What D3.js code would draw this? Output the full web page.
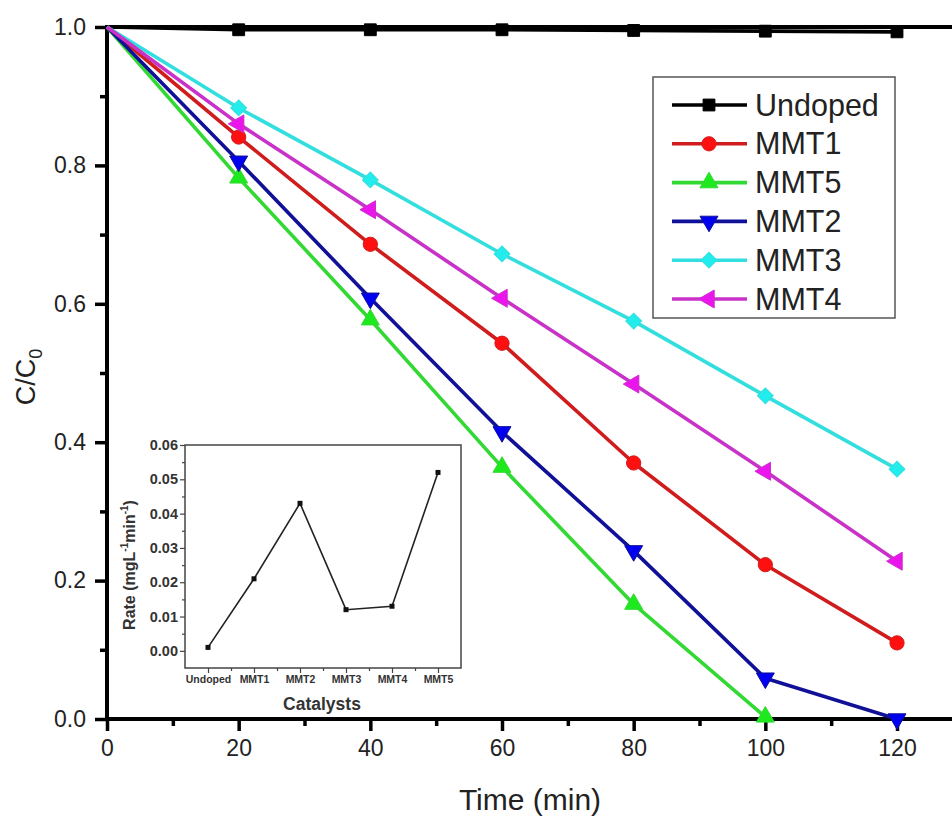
<!DOCTYPE html>
<html><head><meta charset="utf-8">
<script src="https://cdn.jsdelivr.net/npm/d3@7"></script>
<style>body{margin:0;background:#fff}svg{display:block}</style>
</head><body><svg id="c" width="952" height="820"></svg>
<script>
// ---- data ----
const times = [0, 20, 40, 60, 80, 100, 120];
const undoped = [1.0, 0.996, 0.996, 0.996, 0.995, 0.994, 0.993];
const mmt1 = [1.0, 0.841, 0.686, 0.543, 0.370, 0.223, 0.110];
const mmt5 = [1.0, 0.782, 0.577, 0.364, 0.166, 0.003];
const mmt2 = [1.0, 0.806, 0.608, 0.415, 0.243, 0.059, 0.0];
const mmt3 = [1.0, 0.883, 0.779, 0.672, 0.575, 0.467, 0.361];
const mmt4 = [1.0, 0.860, 0.736, 0.608, 0.484, 0.358, 0.228];
const seriesNames = ["Undoped", "MMT1", "MMT5", "MMT2", "MMT3", "MMT4"];
const xTicks = [0, 20, 40, 60, 80, 100, 120];
const xMinor = [10, 30, 50, 70, 90, 110, 130];
const yTicks = [0.0, 0.2, 0.4, 0.6, 0.8, 1.0];
const yMinor = [0.1, 0.3, 0.5, 0.7, 0.9];
const catalysts = ["Undoped", "MMT1", "MMT2", "MMT3", "MMT4", "MMT5"];
const rates = [0.001, 0.021, 0.043, 0.012, 0.013, 0.052];
const rateTicks = [0.00, 0.01, 0.02, 0.03, 0.04, 0.05, 0.06];

// ---- styles ----
const FONT = "'Liberation Sans', Arial, Helvetica, sans-serif";
const styles = [
  {line: "#000000", fill: "#000000", sym: d3.symbolSquare, size: 140, rot: 0},
  {line: "#d01c1c", fill: "#ff1010", sym: d3.symbolCircle, size: 160, rot: 0},
  {line: "#33d933", fill: "#1ee81e", sym: d3.symbolTriangle, size: 140, rot: 0},
  {line: "#101098", fill: "#0000f0", sym: d3.symbolTriangle, size: 140, rot: 180},
  {line: "#33dede", fill: "#22ecec", sym: d3.symbolSquare, size: 125, rot: 45},
  {line: "#c832c8", fill: "#ec14ec", sym: d3.symbolTriangle, size: 140, rot: -90}
];
const seriesVals = [undoped, mmt1, mmt5, mmt2, mmt3, mmt4];

const svg = d3.select("#c");
svg.append("rect").attr("width", 952).attr("height", 820).attr("fill", "#fff");

const x = d3.scaleLinear().domain([0, 120]).range([107, 897]);
const y = d3.scaleLinear().domain([0, 1]).range([719, 27]);

// ---- axes ----
const axG = svg.append("g").attr("font-family", FONT);
axG.append("g").attr("transform", "translate(0,719)")
  .call(d3.axisBottom(x).tickValues(xTicks).tickSize(12).tickPadding(9).tickFormat(d3.format("d")));
axG.append("g").attr("transform", "translate(0,719)")
  .call(d3.axisBottom(x).tickValues(xMinor).tickSize(7).tickFormat(""));
axG.append("g").attr("transform", "translate(107,0)")
  .call(d3.axisLeft(y).tickValues(yTicks).tickSize(12).tickPadding(9).tickFormat(d3.format(".1f")));
axG.append("g").attr("transform", "translate(107,0)")
  .call(d3.axisLeft(y).tickValues(yMinor).tickSize(7).tickFormat(""));
axG.selectAll(".domain").remove();
axG.selectAll(".tick line").attr("stroke", "#000").attr("stroke-width", 3.5);
axG.selectAll(".tick text").attr("font-size", 23).attr("fill", "#222").attr("font-family", FONT);

// frame
const xr = x(132);
svg.append("path")
  .attr("d", `M${xr},${y(1)}H107V${y(0)}H${xr}`)
  .attr("fill", "none").attr("stroke", "#000").attr("stroke-width", 4);

// ---- series ----
const lineGen = d3.line().x((d, i) => x(times[i])).y(d => y(d));
seriesVals.forEach((vals, k) => {
  const s = styles[k];
  svg.append("path").datum(vals).attr("d", lineGen)
    .attr("fill", "none").attr("stroke", s.line).attr("stroke-width", 3.6)
    .attr("stroke-linejoin", "round");
});
seriesVals.forEach((vals, k) => {
  const s = styles[k];
  const sym = d3.symbol().type(s.sym).size(s.size);
  svg.append("g").selectAll("path").data(vals.slice(1)).join("path")
    .attr("d", sym)
    .attr("transform", (d, i) => `translate(${x(times[i + 1])},${y(d)}) rotate(${s.rot})`)
    .attr("fill", s.fill).attr("stroke", s.line).attr("stroke-width", 1);
});

// axis titles
svg.append("text").attr("x", 530).attr("y", 810).attr("text-anchor", "middle")
  .attr("font-family", FONT).attr("font-size", 30).attr("fill", "#222").text("Time (min)");
const yt = svg.append("text").attr("transform", "translate(35,377) rotate(-90)")
  .attr("text-anchor", "middle").attr("font-family", FONT).attr("font-size", 27).attr("fill", "#222");
yt.append("tspan").text("C/C");
yt.append("tspan").attr("font-size", 18).attr("dy", 7).text("0");

// ---- legend ----
const lg = svg.append("g");
lg.append("rect").attr("x", 653).attr("y", 77).attr("width", 242).attr("height", 241)
  .attr("fill", "#fff").attr("stroke", "#555").attr("stroke-width", 1.5);
seriesNames.forEach((name, k) => {
  const s = styles[k];
  const cy = 105 + k * 38.8;
  lg.append("line").attr("x1", 672).attr("x2", 747).attr("y1", cy).attr("y2", cy)
    .attr("stroke", s.line).attr("stroke-width", 3.6);
  lg.append("path").attr("d", d3.symbol().type(s.sym).size(s.size))
    .attr("transform", `translate(709,${cy}) rotate(${s.rot})`)
    .attr("fill", s.fill).attr("stroke", s.line).attr("stroke-width", 1);
  lg.append("text").attr("x", 755).attr("y", cy + 10.5).attr("font-family", FONT)
    .attr("font-size", 30.5).attr("fill", "#222").text(name);
});

// ---- inset ----
const ix = d3.scaleLinear().domain([-0.5, 5.5]).range([185, 461]);
const iy = d3.scaleLinear().domain([-0.005, 0.06]).range([668, 445]);
const ig = svg.append("g").attr("font-family", FONT).attr("font-weight", "bold");
ig.append("rect").attr("x", 185).attr("y", 445).attr("width", 276).attr("height", 223)
  .attr("fill", "#fff").attr("stroke", "#444").attr("stroke-width", 1.5);
const iyAx = ig.append("g").attr("transform", "translate(185,0)")
  .call(d3.axisLeft(iy).tickValues(rateTicks).tickSize(5).tickPadding(2).tickFormat(d3.format(".2f")));
ig.append("g").attr("transform", "translate(185,0)")
  .call(d3.axisLeft(iy).tickValues(rateTicks.slice(0, -1).map(v => v + 0.005)).tickSize(3).tickFormat(""));
const ixAx = ig.append("g").attr("transform", "translate(0,668)")
  .call(d3.axisBottom(ix).tickValues(d3.range(catalysts.length)).tickSize(5).tickPadding(3).tickFormat(i => catalysts[i]));
ig.append("g").attr("transform", "translate(0,668)")
  .call(d3.axisBottom(ix).tickValues(d3.range(catalysts.length - 1).map(i => i + 0.5)).tickSize(3).tickFormat(""));
ig.selectAll(".domain").remove();
ig.selectAll(".tick line").attr("stroke", "#444").attr("stroke-width", 1.2);
iyAx.selectAll(".tick text").attr("font-size", 14.5).attr("fill", "#333").attr("font-family", FONT).attr("font-weight", "bold");
ixAx.selectAll(".tick text").attr("font-size", 10.5).attr("fill", "#333").attr("font-family", FONT).attr("font-weight", "bold");

const iline = d3.line().x((d, i) => ix(i)).y(d => iy(d));
ig.append("path").datum(rates).attr("d", iline).attr("fill", "none")
  .attr("stroke", "#222").attr("stroke-width", 1.6);
ig.append("g").selectAll("rect").data(rates).join("rect")
  .attr("x", (d, i) => ix(i) - 2.5).attr("y", d => iy(d) - 2.5)
  .attr("width", 5).attr("height", 5).attr("fill", "#111");

ig.append("text").attr("x", 322).attr("y", 710).attr("text-anchor", "middle")
  .attr("font-size", 17.5).attr("fill", "#333").text("Catalysts");
const ry = ig.append("text").attr("transform", "translate(135,565) rotate(-90)")
  .attr("text-anchor", "middle").attr("font-size", 16).attr("fill", "#333");
ry.append("tspan").text("Rate (mgL");
ry.append("tspan").attr("font-size", 10).attr("dy", -7).text("-1");
ry.append("tspan").attr("dy", 7).text("min");
ry.append("tspan").attr("font-size", 10).attr("dy", -7).text("-1");
ry.append("tspan").attr("dy", 7).text(")");
</script></body></html>
